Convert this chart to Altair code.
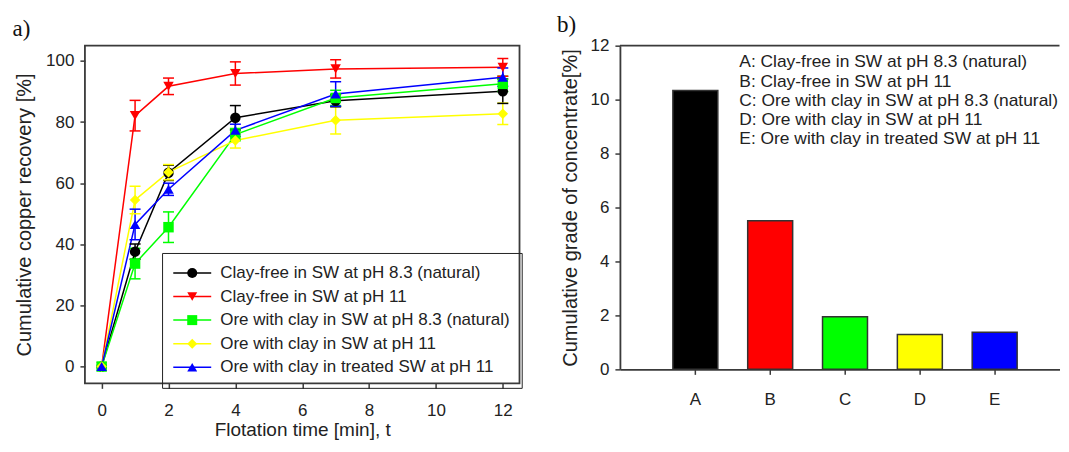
import altair as alt
import pandas as pd

# ---------------- data ----------------
times = [0, 1, 2, 4, 7, 12]
series_names = [
    "Clay-free in SW at pH 8.3 (natural)",
    "Clay-free in SW at pH 11",
    "Ore with clay in SW at pH 8.3 (natural)",
    "Ore with clay in SW at pH 11",
    "Ore with clay in treated SW at pH 11",
]
series_codes = ["s0", "s1", "s2", "s3", "s4"]
series_index = [0, 1, 2, 3, 4]
series_colors = ["#000000", "#ff0000", "#00ff00", "#ffff00", "#0000ff"]
series_shapes = ["circle", "triangle-down", "square", "diamond", "triangle-up"]

rec_black = [0, 37.6, 63.4, 81.4, 87.0, 90.1]
err_black = [0, 2.5, 2.5, 4.0, 2.0, 4.0]
rec_red = [0, 82.1, 91.7, 95.9, 97.4, 97.9]
err_red = [0, 5.0, 2.7, 3.8, 3.0, 2.9]
rec_green = [0, 33.7, 45.6, 75.9, 87.9, 92.5]
err_green = [0, 5.0, 5.0, 2.0, 2.5, 2.5]
rec_yellow = [0, 54.5, 63.6, 74.0, 80.6, 82.7]
err_yellow = [0, 4.5, 2.5, 2.5, 4.5, 3.5]
rec_blue = [0, 46.5, 58.0, 77.3, 89.2, 94.7]
err_blue = [0, 5.0, 2.0, 2.0, 4.0, 3.0]

x_ticks = [0, 2, 4, 6, 8, 10, 12]
y_ticks = [0, 20, 40, 60, 80, 100]

bar_cats = ["A", "B", "C", "D", "E"]
bar_vals = [10.34, 5.51, 1.95, 1.29, 1.38]
bar_colors = ["#000000", "#ff0000", "#00ff00", "#ffff00", "#0000ff"]
grade_ticks = [0, 2, 4, 6, 8, 10, 12]
annot_lines = [
    "A: Clay-free in SW at pH 8.3 (natural)",
    "B: Clay-free in SW at pH 11",
    "C: Ore with clay in SW at pH 8.3 (natural)",
    "D: Ore with clay in SW at pH 11",
    "E: Ore with clay in treated SW at pH 11",
]

# ---------------- tables ----------------
rows = []
for name, code, idx, vals, errs in zip(
    series_names, series_codes, series_index,
    [rec_black, rec_red, rec_green, rec_yellow, rec_blue],
    [err_black, err_red, err_green, err_yellow, err_blue],
):
    for t, v, e in zip(times, vals, errs):
        rows.append({"series": name, "sl": code, "si": idx, "t": t, "rec": v,
                     "lo": v - e, "hi": v + e})
df = pd.DataFrame(rows)
df_err = df[df["t"] > 0]

FONT = "Liberation Sans"
INK = "#222222"
FRAME = "#3a3a3a"

x_axis = alt.Axis(values=x_ticks, title="Flotation time [min], t", labelPadding=14.2,
                  titlePadding=2, titleFontSize=19, domain=False, grid=False, tickSize=5)
y_axis = alt.Axis(values=y_ticks, title="Cumulative copper recovery [%]", labelPadding=6,
                  titlePadding=11, domain=False, grid=False, tickSize=5)
x_scale = alt.Scale(domain=[-0.5, 12.5], nice=False, zero=False)
y_scale = alt.Scale(domain=[-5.5, 105], nice=False, zero=False)

# two legends drawn on top of each other: one gives the line segment, one the marker + label
legend_geom = dict(orient="none", legendX=77.2, legendY=207.5, title=None, padding=11,
                   rowPadding=5.6, clipHeight=18, labelFontSize=17, labelFont=FONT,
                   labelOffset=19.5, symbolSize=100, symbolOffset=10.7, symbolStrokeWidth=1.5,
                   labelLimit=0)
line_legend = alt.Legend(symbolType="M-3.8,0L3.8,0", labelExpr="''", **legend_geom)
mark_legend = alt.Legend(labelColor=INK, strokeColor=INK, **legend_geom)

series_fill = alt.Scale(domain=series_names, range=series_colors)
err_color = alt.Stroke("si:N", scale=alt.Scale(domain=series_index, range=series_colors),
                       legend=None)

lines = alt.Chart(df).mark_line(strokeWidth=1.5).encode(
    x=alt.X("t:Q", scale=x_scale, axis=x_axis),
    y=alt.Y("rec:Q", scale=y_scale, axis=y_axis),
    color=alt.Color("sl:N", scale=alt.Scale(domain=series_codes, range=series_colors),
                    legend=line_legend),
)

err_rules = alt.Chart(df_err).mark_rule(strokeWidth=1.5).encode(
    x=alt.X("t:Q", scale=x_scale, axis=x_axis),
    y=alt.Y("lo:Q", scale=y_scale, axis=y_axis),
    y2="hi:Q",
    stroke=err_color,
)
cap_hi = alt.Chart(df_err).mark_rule(strokeWidth=1.5, xOffset=-5.5, x2Offset=5.5).encode(
    x=alt.X("t:Q", scale=x_scale, axis=x_axis),
    x2="t:Q",
    y=alt.Y("hi:Q", scale=y_scale, axis=y_axis),
    stroke=err_color,
)
cap_lo = alt.Chart(df_err).mark_rule(strokeWidth=1.5, xOffset=-5.5, x2Offset=5.5).encode(
    x=alt.X("t:Q", scale=x_scale, axis=x_axis),
    x2="t:Q",
    y=alt.Y("lo:Q", scale=y_scale, axis=y_axis),
    stroke=err_color,
)

points = alt.Chart(df).mark_point(filled=True, size=110, opacity=1, strokeWidth=0).encode(
    x=alt.X("t:Q", scale=x_scale, axis=x_axis),
    y=alt.Y("rec:Q", scale=y_scale, axis=y_axis),
    fill=alt.Fill("series:N", scale=series_fill, legend=mark_legend),
    shape=alt.Shape("series:N", scale=alt.Scale(domain=series_names, range=series_shapes),
                    legend=mark_legend),
)

one = pd.DataFrame({"k": [0]})
label_a = alt.Chart(one).mark_text(
    font="Liberation Serif", fontSize=23, align="left", baseline="middle", color="#111"
).encode(x=alt.value(-72.5), y=alt.value(-17), text=alt.value("a)"))

left = alt.layer(lines, err_rules, cap_hi, cap_lo, points, label_a).properties(
    width=435, height=338,
    view=alt.ViewBackground(stroke=FRAME, strokeWidth=1.8),
)

# ---------------- right panel ----------------
bar_df = pd.DataFrame({"cat": bar_cats, "val": bar_vals})
gx_axis = alt.Axis(labelAngle=0, title=None, labelPadding=17.2, tickSize=5, domainColor=FRAME,
                   domainWidth=1.8)
gy_axis = alt.Axis(values=grade_ticks, title="Cumulative grade of concentrate[%]", labelPadding=6,
                   titlePadding=10, tickSize=5, grid=False, domainColor=FRAME, domainWidth=1.8)
bars = alt.Chart(bar_df).mark_bar(size=45, stroke="#333", strokeWidth=1.5).encode(
    x=alt.X("cat:N", scale=alt.Scale(domain=bar_cats, paddingInner=0, paddingOuter=0.4372,
                                     align=0.581), axis=gx_axis),
    y=alt.Y("val:Q", scale=alt.Scale(domain=[0, 12], nice=False), axis=gy_axis),
    fill=alt.Fill("cat:N", scale=alt.Scale(domain=bar_cats, range=bar_colors), legend=None),
)
top_rule = alt.Chart(one).mark_rule(color=FRAME, strokeWidth=1.8).encode(
    y=alt.datum(grade_ticks[-1])
)
annot = alt.Chart(one).mark_text(
    align="left", baseline="top", fontSize=17.4, lineHeight=19.3, font=FONT, color=INK
).encode(x=alt.value(119.5), y=alt.value(7.6), text=alt.value(annot_lines))
label_b = alt.Chart(one).mark_text(
    font="Liberation Serif", fontSize=23, align="left", baseline="middle", color="#111"
).encode(x=alt.value(-63), y=alt.value(-21), text=alt.value("b)"))

right = alt.layer(bars, top_rule, annot, label_b).properties(
    width=440, height=324,
    view=alt.ViewBackground(stroke=None),
)

chart = alt.hconcat(left, right, spacing=33.5).resolve_scale(
    color="independent", fill="independent", stroke="independent", shape="independent"
).properties(
    padding={"left": 3, "top": 5.5, "right": 0, "bottom": 0}
).configure_axis(
    labelFont=FONT, titleFont=FONT, labelFontSize=17, titleFontSize=20,
    labelColor=INK, titleColor=INK, titleFontWeight="normal",
    tickColor=FRAME, tickWidth=1.5,
).configure_view(stroke=None)

chart.save("out.html", embed_options={"renderer": "svg", "actions": False})
